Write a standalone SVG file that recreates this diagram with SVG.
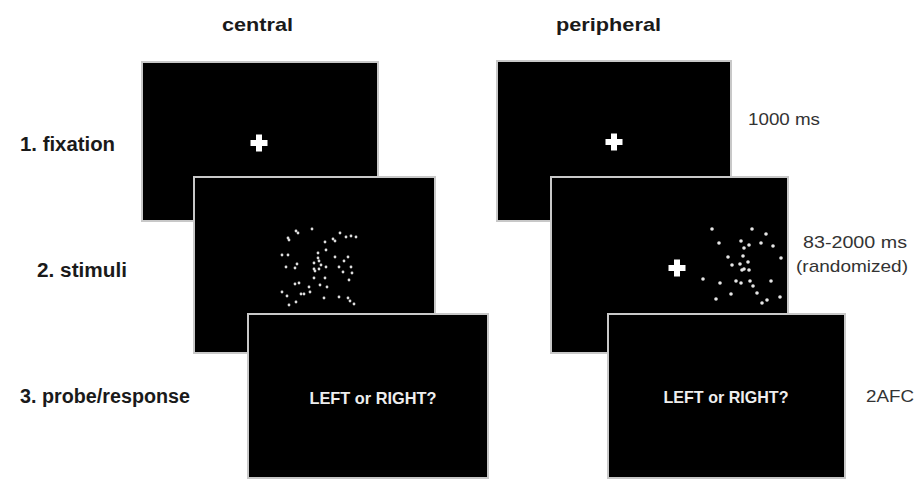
<svg xmlns="http://www.w3.org/2000/svg" width="917" height="479" viewBox="0 0 917 479">
  <style>
    .screen { fill: #000; stroke: #c8c8c8; stroke-width: 2; }
    .cross { fill: #fff; }
    .head { font-family: "Liberation Sans", Arial, sans-serif; font-weight: bold; font-size: 19px; fill: #1a1a1a; }
    .row { font-family: "Liberation Sans", Arial, sans-serif; font-weight: bold; font-size: 20px; fill: #1a1a1a; }
    .time { font-family: "Liberation Sans", Arial, sans-serif; font-size: 17px; fill: #333; }
    .probe { font-family: "Liberation Sans", Arial, sans-serif; font-weight: bold; font-size: 16.5px; fill: #eee; text-anchor: middle; }
    .dc circle { fill: #ddd; }
    .dp circle { fill: #e6e6e6; }
  </style>
  <defs>
    <path id="plus" d="M-3,-8.5 H3 V-3 H8.5 V3 H3 V8.5 H-3 V3 H-8.5 V-3 H-3 Z"/>
  </defs>

  <!-- column headings -->
  <text class="head" x="222" y="31" textLength="71" lengthAdjust="spacingAndGlyphs">central</text>
  <text class="head" x="556" y="31" textLength="105" lengthAdjust="spacingAndGlyphs">peripheral</text>

  <!-- row labels -->
  <text class="row" x="20" y="151" textLength="95" lengthAdjust="spacingAndGlyphs">1. fixation</text>
  <text class="row" x="37" y="277" textLength="90" lengthAdjust="spacingAndGlyphs">2. stimuli</text>
  <text class="row" x="20" y="403" textLength="170" lengthAdjust="spacingAndGlyphs">3. probe/response</text>

  <!-- timing labels -->
  <text class="time" x="748" y="125" textLength="72" lengthAdjust="spacingAndGlyphs">1000 ms</text>
  <text class="time" x="803" y="248" textLength="104" lengthAdjust="spacingAndGlyphs">83-2000 ms</text>
  <text class="time" x="796" y="272" textLength="112" lengthAdjust="spacingAndGlyphs">(randomized)</text>
  <text class="time" x="866" y="402" textLength="48" lengthAdjust="spacingAndGlyphs">2AFC</text>

  <!-- central condition -->
  <g id="central-fixation">
    <rect class="screen" x="142" y="62" width="236" height="159"/>
    <use href="#plus" class="cross" x="259" y="143"/>
  </g>
  <g id="central-stimuli">
    <rect class="screen" x="194" y="177" width="241" height="176"/>
    <g class="dc">
      <circle cx="296" cy="231" r="1.4"/><circle cx="298" cy="233" r="1.4"/><circle cx="312" cy="229" r="1.4"/>
      <circle cx="288" cy="238" r="1.4"/><circle cx="289" cy="240" r="1.4"/><circle cx="340" cy="233" r="1.4"/>
      <circle cx="346" cy="237" r="1.4"/><circle cx="351" cy="236" r="1.4"/><circle cx="356" cy="237" r="1.4"/>
      <circle cx="325" cy="242" r="1.4"/><circle cx="333" cy="239" r="1.4"/><circle cx="335" cy="241" r="1.4"/>
      <circle cx="326" cy="250" r="1.4"/><circle cx="282" cy="255" r="1.4"/><circle cx="288" cy="255" r="1.4"/>
      <circle cx="318" cy="253" r="1.4"/><circle cx="318" cy="258" r="1.4"/><circle cx="319" cy="261" r="1.4"/>
      <circle cx="335" cy="257" r="1.4"/><circle cx="348" cy="257" r="1.4"/><circle cx="344" cy="261" r="1.4"/>
      <circle cx="286" cy="267" r="1.4"/><circle cx="295" cy="268" r="1.4"/><circle cx="297" cy="264" r="1.4"/>
      <circle cx="314" cy="263" r="1.4"/><circle cx="321" cy="265" r="1.4"/><circle cx="326" cy="267" r="1.4"/>
      <circle cx="314" cy="269" r="1.4"/><circle cx="315" cy="271" r="1.4"/><circle cx="319" cy="269" r="1.4"/>
      <circle cx="339" cy="267" r="1.4"/><circle cx="351" cy="267" r="1.4"/><circle cx="343" cy="272" r="1.4"/>
      <circle cx="352" cy="273" r="1.4"/><circle cx="314" cy="278" r="1.4"/><circle cx="325" cy="278" r="1.4"/>
      <circle cx="349" cy="280" r="1.4"/><circle cx="295" cy="284" r="1.4"/><circle cx="299" cy="283" r="1.4"/>
      <circle cx="320" cy="285" r="1.4"/><circle cx="309" cy="287" r="1.4"/><circle cx="327" cy="287" r="1.4"/>
      <circle cx="282" cy="292" r="1.4"/><circle cx="287" cy="296" r="1.4"/><circle cx="301" cy="294" r="1.4"/>
      <circle cx="304" cy="294" r="1.4"/><circle cx="310" cy="292" r="1.4"/><circle cx="324" cy="298" r="1.4"/>
      <circle cx="339" cy="297" r="1.4"/><circle cx="348" cy="298" r="1.4"/><circle cx="350" cy="301" r="1.4"/>
      <circle cx="289" cy="305" r="1.4"/><circle cx="296" cy="302" r="1.4"/><circle cx="354" cy="304" r="1.4"/>
    </g>
  </g>
  <g id="central-probe">
    <rect class="screen" x="248" y="314" width="240" height="164"/>
    <text class="probe" x="373" y="404" textLength="127" lengthAdjust="spacingAndGlyphs">LEFT or RIGHT?</text>
  </g>

  <!-- peripheral condition -->
  <g id="peripheral-fixation">
    <rect class="screen" x="497" y="61" width="234" height="160"/>
    <use href="#plus" class="cross" x="614" y="142"/>
  </g>
  <g id="peripheral-stimuli">
    <rect class="screen" x="551" y="177" width="237" height="176"/>
    <use href="#plus" class="cross" x="677" y="268"/>
    <g class="dp">
      <circle cx="712" cy="229" r="1.8"/><circle cx="752" cy="229" r="1.8"/><circle cx="766" cy="234" r="1.8"/>
      <circle cx="719" cy="243" r="1.8"/><circle cx="741" cy="241" r="1.8"/><circle cx="749" cy="245" r="1.8"/>
      <circle cx="744" cy="248" r="1.8"/><circle cx="761" cy="243" r="1.8"/><circle cx="773" cy="246" r="1.8"/>
      <circle cx="728" cy="257" r="1.8"/><circle cx="743" cy="256" r="1.8"/><circle cx="781" cy="258" r="1.8"/>
      <circle cx="732" cy="265" r="1.8"/><circle cx="740" cy="264" r="1.8"/><circle cx="748" cy="262" r="1.8"/>
      <circle cx="744" cy="269" r="1.8"/><circle cx="742" cy="270" r="1.8"/><circle cx="749" cy="270" r="1.8"/>
      <circle cx="703" cy="279" r="1.8"/><circle cx="720" cy="283" r="1.8"/><circle cx="736" cy="281" r="1.8"/>
      <circle cx="741" cy="283" r="1.8"/><circle cx="750" cy="281" r="1.8"/><circle cx="753" cy="286" r="1.8"/>
      <circle cx="771" cy="281" r="1.8"/><circle cx="731" cy="294" r="1.8"/><circle cx="757" cy="293" r="1.8"/>
      <circle cx="716" cy="299" r="1.8"/><circle cx="767" cy="300" r="1.8"/><circle cx="762" cy="303" r="1.8"/>
      <circle cx="780" cy="297" r="1.8"/>
    </g>
  </g>
  <g id="peripheral-probe">
    <rect class="screen" x="608" y="314" width="237" height="164"/>
    <text class="probe" x="726" y="403" textLength="125" lengthAdjust="spacingAndGlyphs">LEFT or RIGHT?</text>
  </g>
</svg>
